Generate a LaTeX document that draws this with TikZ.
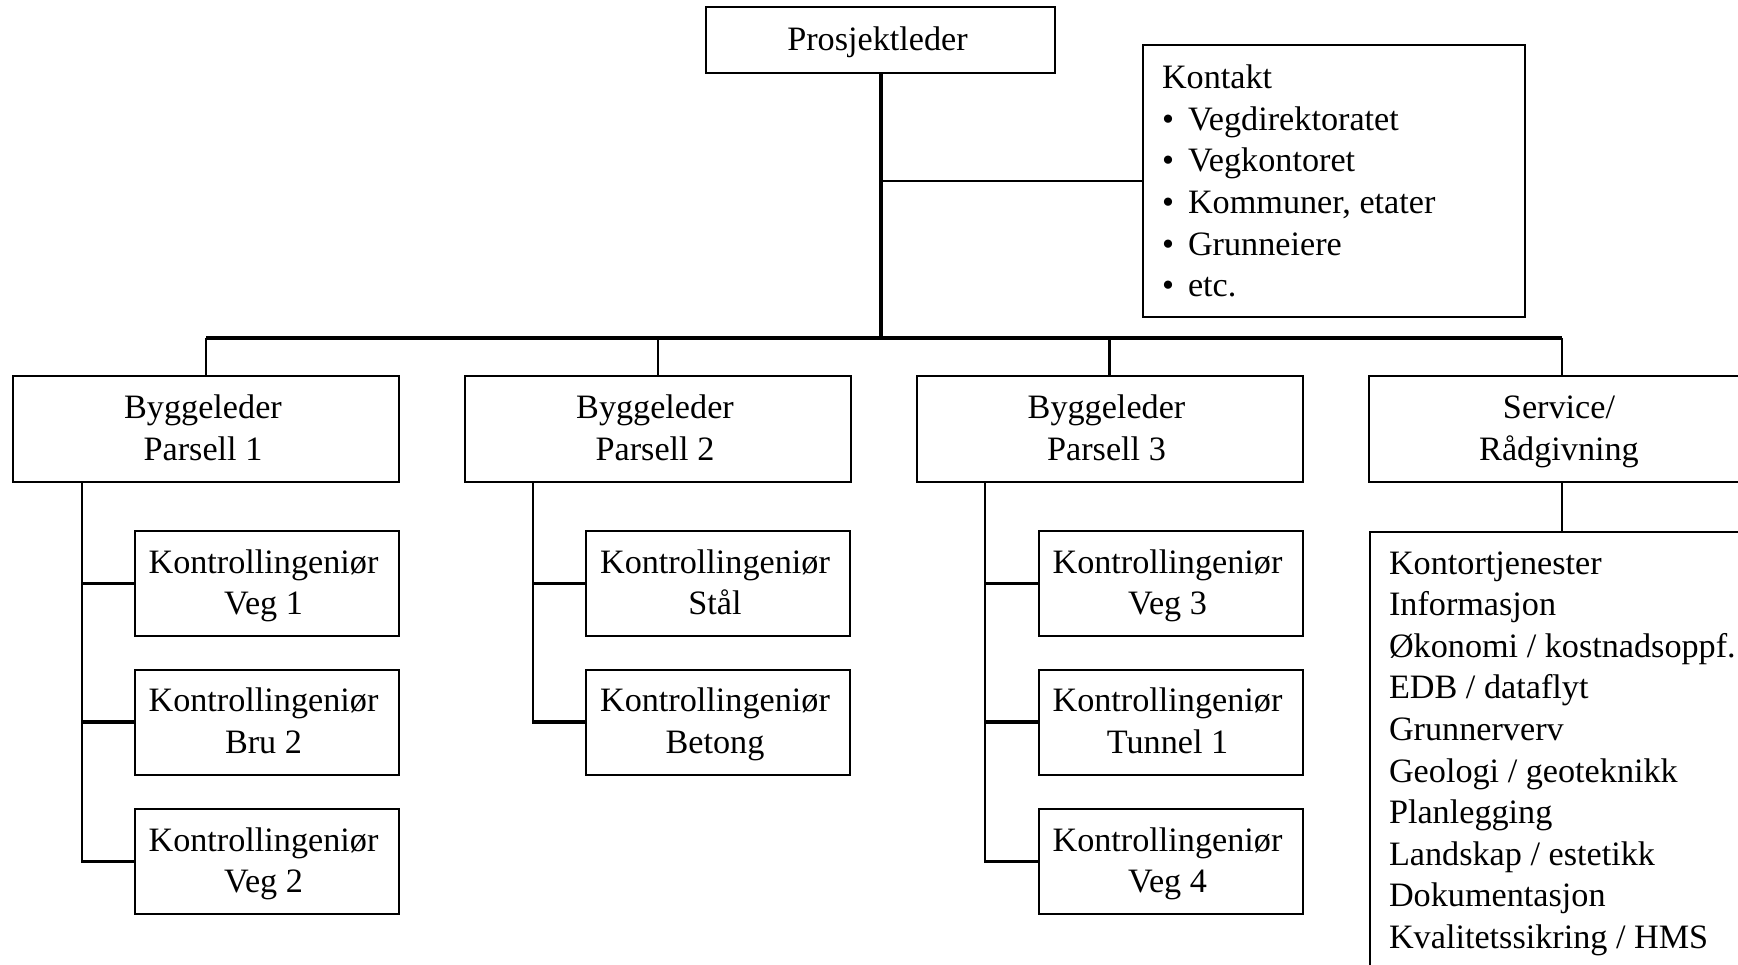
\documentclass[tikz,border=0pt]{standalone}
\usepackage{fontspec}
\setmainfont{Liberation Serif}
% stacked lines with natural word spacing
\newcommand{\lowered}[2]{\raisebox{-#1}[\height][\depth]{#2}}
\newcommand{\cstack}[1]{\kern-3pt\lowered{1pt}{\begin{tabular}{@{}c@{}}#1\end{tabular}}}
\newcommand{\lstack}[3]{\lowered{#1}{\makebox[#2][l]{\begin{tabular}{@{}l@{}}#3\end{tabular}}}}
\newcommand{\itm}{\makebox[13pt][l]{\textbullet}}
\begin{document}
\begin{tikzpicture}[x=0.5pt,y=-0.5pt,
  txt/.style={font=\fontsize{17.1}{20.8}\selectfont},
  box/.style={draw,line width=1pt,inner sep=0pt,txt},
  topbox/.style={box,minimum width=174.5pt,minimum height=33pt},
  lvltwo/.style={box,minimum width=193pt,minimum height=53pt},
  kibox/.style={box,minimum width=132pt,minimum height=52.5pt},
  textbox/.style={box,inner xsep=9.5pt,inner ysep=0pt},
  trunk/.style={line width=2pt},
  bus/.style={line width=1.65pt},
  drop/.style={line width=1.15pt},
  side/.style={line width=1.35pt},
  column/.style={line width=1.1pt},
  tick/.style={line width=1.65pt},
]
\useasboundingbox (0,0) rectangle (1738,964);
\clip (0,0) rectangle (1738,964);

% top level
\node[topbox] (pl) at (880.5,40) {\cstack{Prosjektleder}};

\node[textbox,minimum width=191pt,minimum height=136pt] (kontakt) at (1334,181)
  {\lstack{1.7pt}{172pt}{Kontakt\\
   \itm Vegdirektoratet\\
   \itm Vegkontoret\\
   \itm Kommuner, etater\\
   \itm Grunneiere\\
   \itm etc.}};

% second level
\node[lvltwo] (b1) at (206,429) {\cstack{Byggeleder\\Parsell 1}};
\node[lvltwo] (b2) at (658,429) {\cstack{Byggeleder\\Parsell 2}};
\node[lvltwo] (b3) at (1109.5,429) {\cstack{Byggeleder\\Parsell 3}};
\node[lvltwo] (b4) at (1562,429) {\cstack{Service/\\Rådgivning}};

% third level
\node[kibox] (k11) at (266.5,583.5) {\cstack{Kontrollingeniør\\Veg 1}};
\node[kibox] (k12) at (266.5,722) {\cstack{Kontrollingeniør\\Bru 2}};
\node[kibox] (k13) at (266.5,861.5) {\cstack{Kontrollingeniør\\Veg 2}};
\node[kibox] (k21) at (718,583.5) {\cstack{Kontrollingeniør\\Stål}};
\node[kibox] (k22) at (718,722) {\cstack{Kontrollingeniør\\Betong}};
\node[kibox] (k31) at (1170.5,583.5) {\cstack{Kontrollingeniør\\Veg 3}};
\node[kibox] (k32) at (1170.5,722) {\cstack{Kontrollingeniør\\Tunnel 1}};
\node[kibox] (k33) at (1170.5,861.5) {\cstack{Kontrollingeniør\\Veg 4}};

\node[textbox,anchor=north west,minimum width=199pt,minimum height=221pt] (svc) at (1369,531)
  {\lstack{0pt}{180pt}{Kontortjenester\\
   Informasjon\\
   Økonomi / kostnadsoppf.\\
   EDB / dataflyt\\
   Grunnerverv\\
   Geologi / geoteknikk\\
   Planlegging\\
   Landskap / estetikk\\
   Dokumentasjon\\
   Kvalitetssikring / HMS}};

% connectors
\coordinate (bus) at (880,338);
\draw[trunk] (pl.south) -- ([yshift=-1pt]pl.south |- bus);
\draw[side] (pl.south |- kontakt.west) -- (kontakt.west);
\draw[bus] (b1.north |- bus) -- (b4.north |- bus);
\foreach \b in {b1,b2,b3,b4}
  \draw[drop] (\b.north |- bus) -- (\b.north);

\coordinate (c1) at (82,482);
\coordinate (c2) at (533,482);
\coordinate (c3) at (985,482);
\draw[column] (c1) -- ([yshift=-0.8pt]c1 |- k13.west);
\draw[column] (c2) -- ([yshift=-0.8pt]c2 |- k22.west);
\draw[column] (c3) -- ([yshift=-0.8pt]c3 |- k33.west);
\foreach \c/\k in {c1/k11,c1/k12,c1/k13,c2/k21,c2/k22,c3/k31,c3/k32,c3/k33}
  \draw[tick] (\c |- \k.west) -- (\k.west);

\draw[column] (b4.south) -- (b4.south |- svc.north);
\end{tikzpicture}
\end{document}
